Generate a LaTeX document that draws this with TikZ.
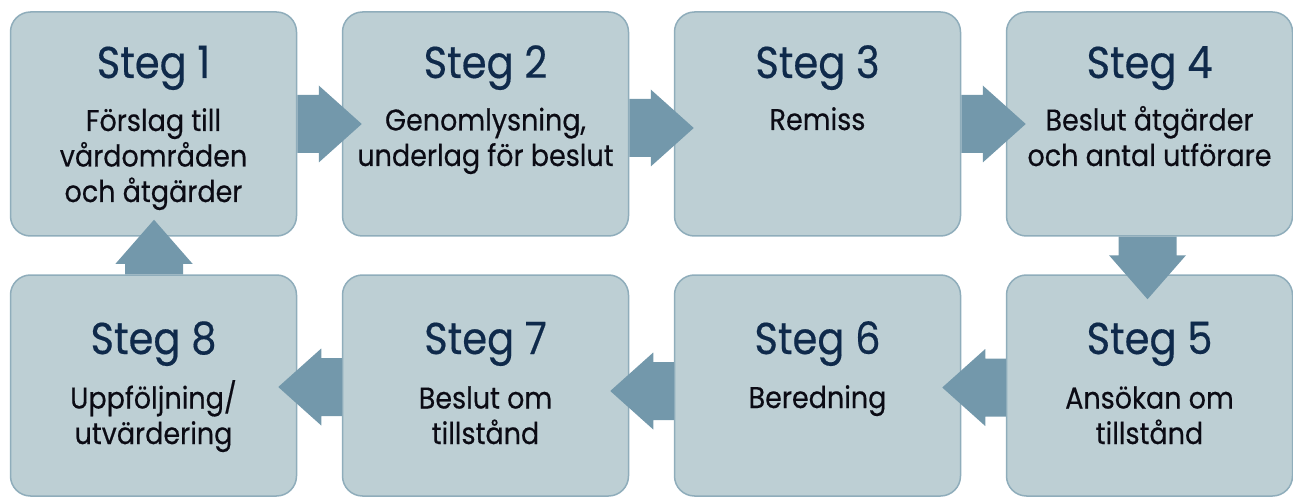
\documentclass[tikz,border=0pt]{standalone}
\usepackage{fontspec}
\setmainfont{Poppins}[FakeStretch=0.9, FakeBold=0.4]
\usetikzlibrary{calc}

\definecolor{boxfill}{HTML}{BDCFD4}
\definecolor{boxline}{HTML}{8FADBB}
\definecolor{arrowfill}{HTML}{7398AB}
\definecolor{titlecol}{HTML}{0F2A4B}
\definecolor{bodycol}{HTML}{0B0B14}

\tikzset{
  stepbox/.style={draw=boxline, fill=boxfill, line width=1.5pt,
    rounded corners=20pt, minimum width=286pt, inner sep=0pt},
  toprow/.style={minimum height=224pt},
  botrow/.style={minimum height=221pt},
  steptitle/.style={anchor=base, inner sep=0pt, text=titlecol,
    font=\fontsize{44.5}{50}\selectfont},
  % multi-line texts are placed by the baseline of their last line
  stepbody/.style={anchor=base, inner sep=0pt, align=center, text=bodycol,
    font=\fontsize{30}{35.5}\selectfont},
  blockarrow/.style={fill=arrowfill, draw=none}
}

% block arrows between boxes; #3 shifts the arrow across its direction
\newcommand\blockR[3]{\path[blockarrow]
  ($(#1.east)+(0,#3-29)$) -- ($(#2.west)+(-23,#3-29)$) -- ($(#2.west)+(-23,#3-38.5)$)
  -- ($(#2.west)+(20,#3)$) -- ($(#2.west)+(-23,#3+38.5)$) -- ($(#2.west)+(-23,#3+29)$)
  -- ($(#1.east)+(0,#3+29)$) -- cycle;}
\newcommand\blockL[3]{\path[blockarrow]
  ($(#1.west)+(0,#3-29)$) -- ($(#2.east)+(24,#3-29)$) -- ($(#2.east)+(24,#3-38.5)$)
  -- ($(#2.east)+(-19,#3)$) -- ($(#2.east)+(24,#3+38.5)$) -- ($(#2.east)+(24,#3+29)$)
  -- ($(#1.west)+(0,#3+29)$) -- cycle;}
\newcommand\blockD[3]{\path[blockarrow]
  ($(#1.south)+(#3-29,0)$) -- ($(#2.north)+(#3-29,-19)$) -- ($(#2.north)+(#3-38.5,-19)$)
  -- ($(#2.north)+(#3,25)$) -- ($(#2.north)+(#3+38.5,-19)$) -- ($(#2.north)+(#3+29,-19)$)
  -- ($(#1.south)+(#3+29,0)$) -- cycle;}
\newcommand\blockU[3]{\path[blockarrow]
  ($(#1.north)+(#3-29,0)$) -- ($(#2.south)+(#3-29,27)$) -- ($(#2.south)+(#3-38.5,27)$)
  -- ($(#2.south)+(#3,-17)$) -- ($(#2.south)+(#3+38.5,27)$) -- ($(#2.south)+(#3+29,27)$)
  -- ($(#1.north)+(#3+29,0)$) -- cycle;}

\begin{document}
\begin{tikzpicture}[x=1pt,y=-1pt]
\useasboundingbox (0,0) rectangle (1293,497);

% boxes, top row left to right, bottom row right to left
\node[stepbox,toprow] (s1) at (153.5,124) {};
\node[stepbox,toprow] (s2) at (485.5,124) {};
\node[stepbox,toprow] (s3) at (817.5,124) {};
\node[stepbox,toprow] (s4) at (1149.5,124) {};
\node[stepbox,botrow] (s5) at (1149.5,385.5) {};
\node[stepbox,botrow] (s6) at (817.5,385.5) {};
\node[stepbox,botrow] (s7) at (485.5,385.5) {};
\node[stepbox,botrow] (s8) at (153.5,385.5) {};

% flow arrows
\blockR{s1}{s2}{0}
\blockR{s2}{s3}{4}
\blockR{s3}{s4}{0}
\blockD{s4}{s5}{-2}
\blockL{s5}{s6}{2}
\blockL{s6}{s7}{5.5}
\blockL{s7}{s8}{1.5}
\blockU{s8}{s1}{0.5}

% texts
\node[steptitle] (t1) at (153.5,78) {Steg 1};
\node[stepbody]  (b1) at (153.5,202) {Förslag till\\vårdområden\\och åtgärder};
\node[steptitle] (t2) at (485.5,78) {Steg 2};
\node[stepbody]  (b2) at (485.5,166) {Genomlysning,\\underlag för beslut};
\node[steptitle] (t3) at (817.5,78) {Steg 3};
\node[stepbody]  (b3) at (817.5,130) {Remiss};
\node[steptitle] (t4) at (1149.5,78) {Steg 4};
\node[stepbody]  (b4) at (1149.5,166) {Beslut åtgärder\\och antal utförare};

\node[steptitle] (t5) at (1149.5,354) {Steg 5};
\node[stepbody]  (b5) at (1149.5,444) {Ansökan om\\tillstånd};
\node[steptitle] (t6) at (817.5,354) {Steg 6};
\node[stepbody]  (b6) at (817.5,408) {Beredning};
\node[steptitle] (t7) at (485.5,354) {Steg 7};
\node[stepbody]  (b7) at (485.5,444) {Beslut om\\tillstånd};
\node[steptitle] (t8) at (153.5,354) {Steg 8};
\node[stepbody]  (b8) at (153.5,444) {Uppföljning/\\utvärdering};
\end{tikzpicture}
\end{document}
